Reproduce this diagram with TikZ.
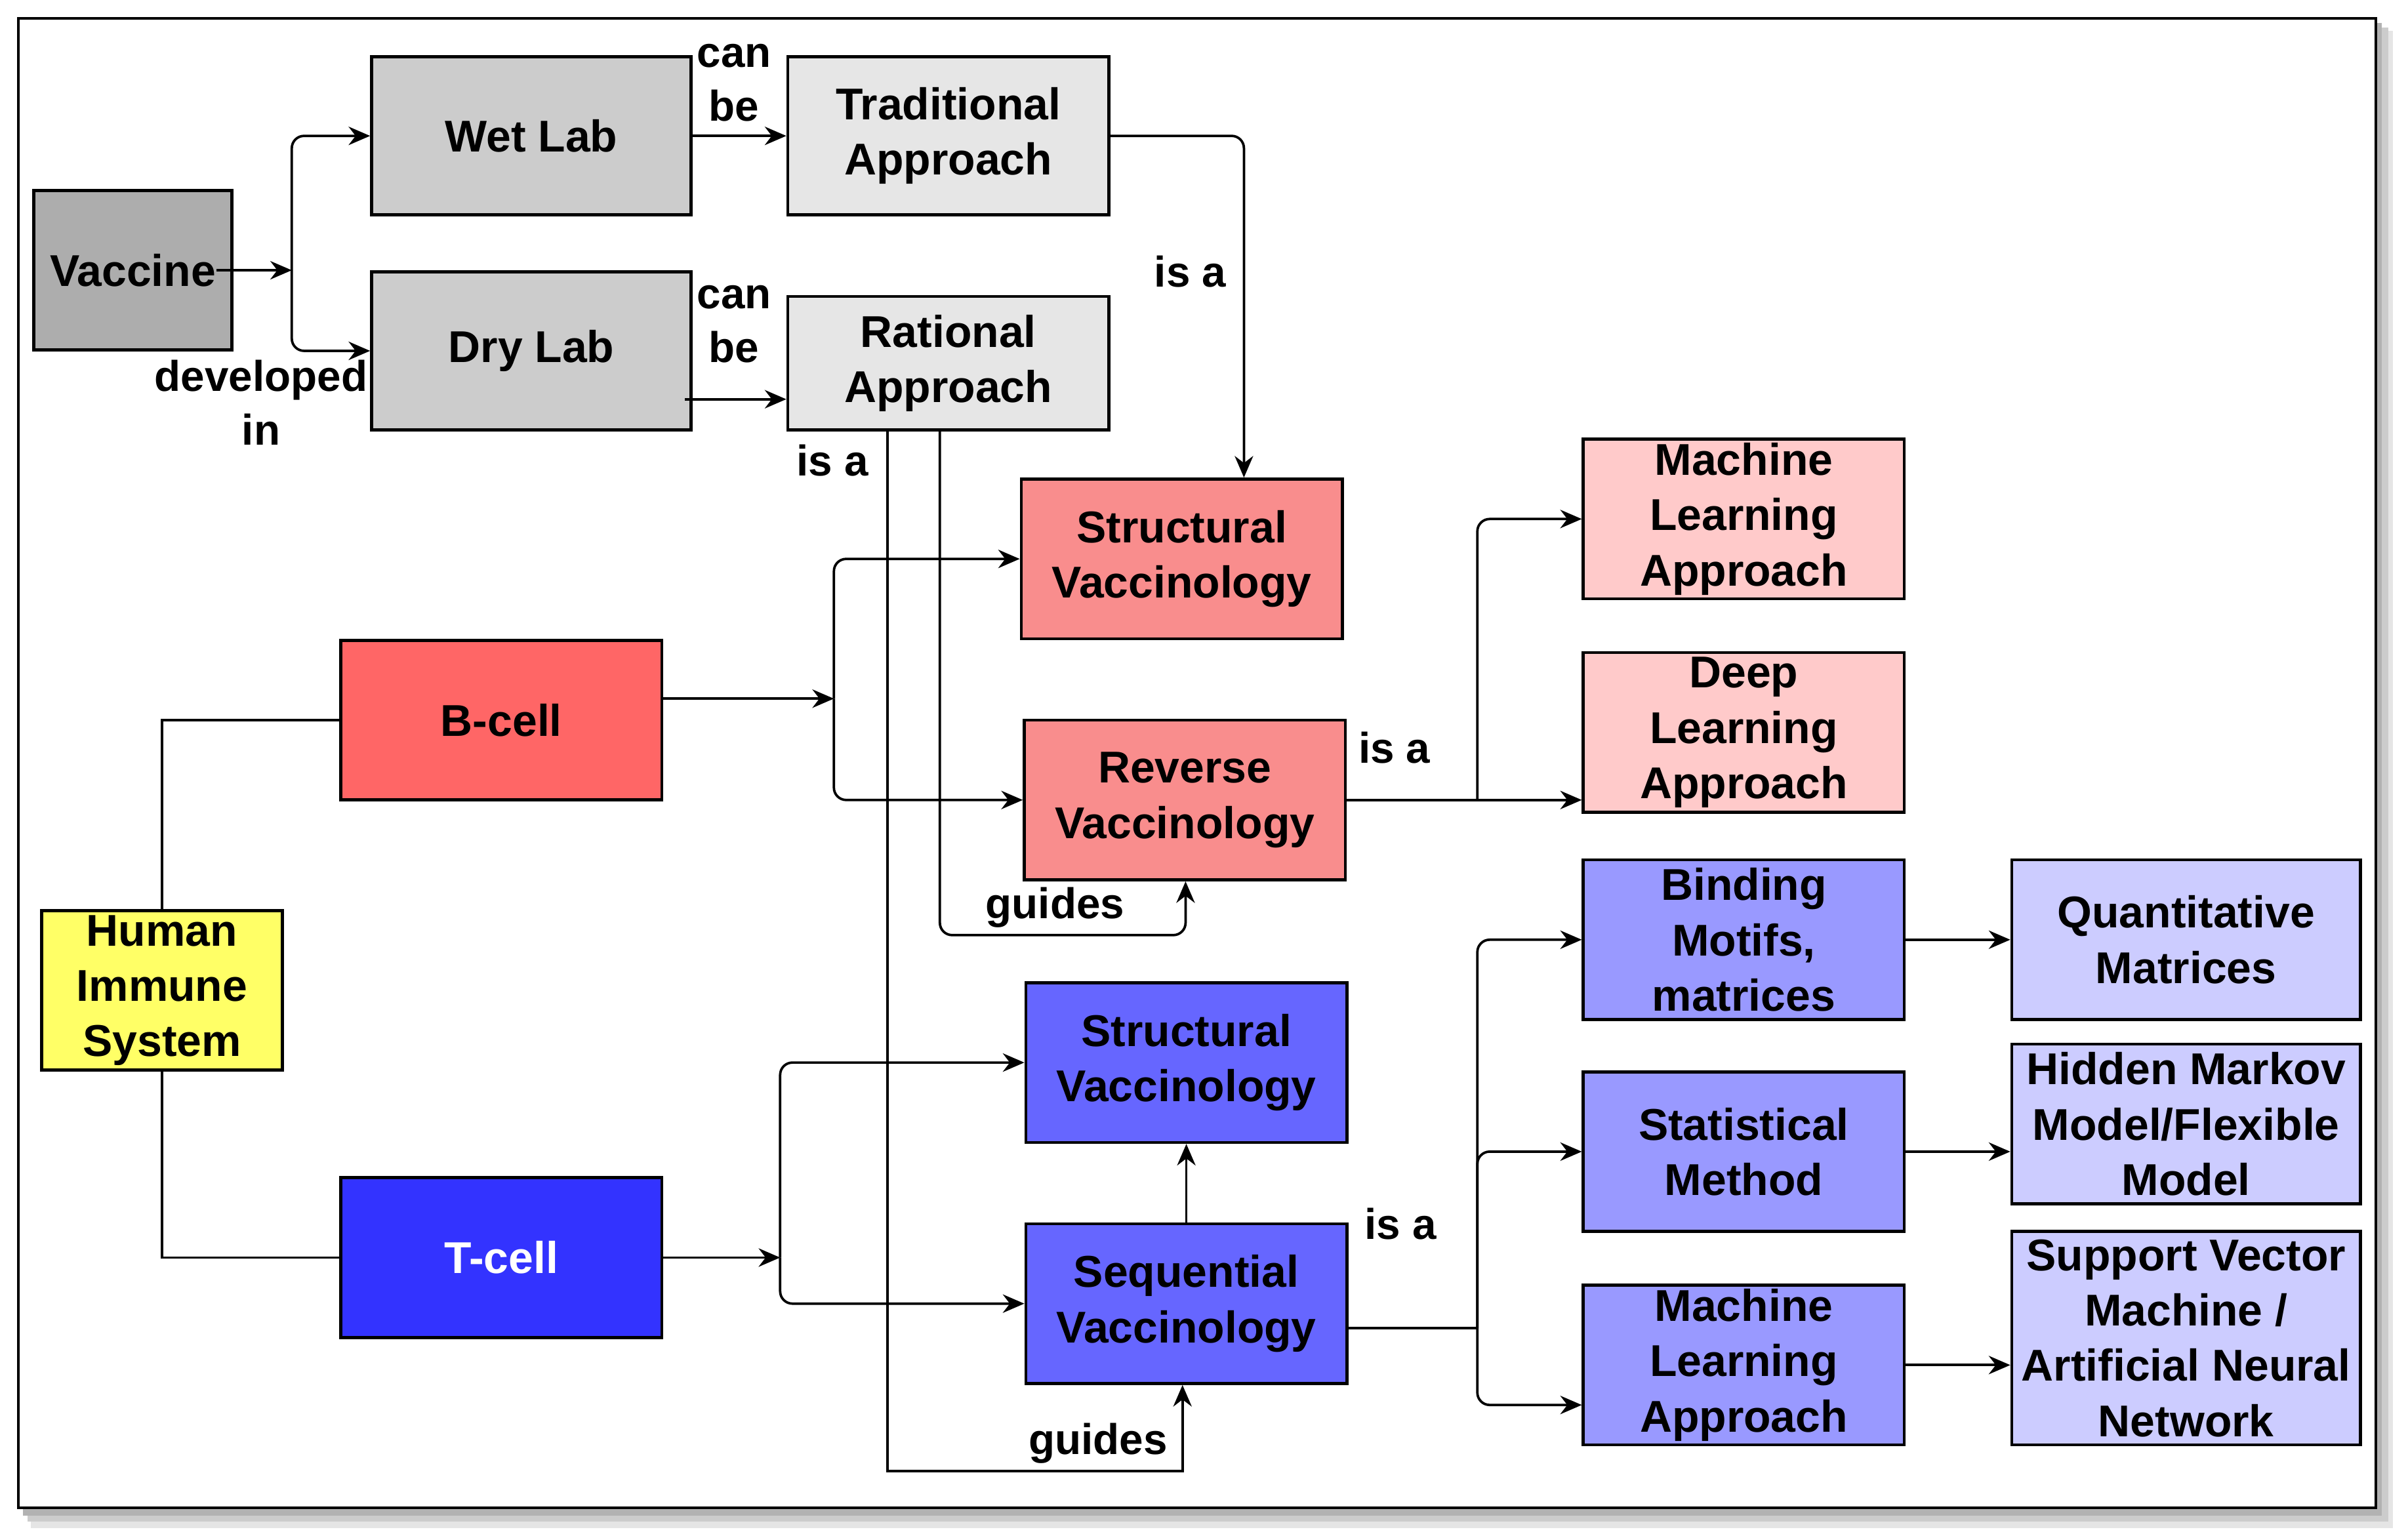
\documentclass[tikz,border=0pt]{standalone}
\usepackage{fontspec}
\setmainfont{Liberation Sans}
\usetikzlibrary{arrows.meta,calc}
\definecolor{cvac}{HTML}{ADADAD}
\definecolor{clab}{HTML}{CCCCCC}
\definecolor{cappr}{HTML}{E6E6E6}
\definecolor{cred}{HTML}{F98D8D}
\definecolor{cbcell}{HTML}{FF6666}
\definecolor{cpink}{HTML}{FFCACA}
\definecolor{ctcell}{HTML}{3333FF}
\definecolor{cblue}{HTML}{6666FF}
\definecolor{cblue2}{HTML}{9999FF}
\definecolor{cblue3}{HTML}{CCCCFF}
\definecolor{cyel}{HTML}{FFFF66}
\tikzset{
  bx/.style={draw, line width=1pt, inner sep=0pt, align=center,
    font=\fontsize{14.5}{18}\selectfont\bfseries,
    minimum width=104.5pt, minimum height=52pt},
  lbl/.style={align=center, inner sep=0pt, font=\fontsize{14}{17.5}\selectfont\bfseries},
  arr/.style={line width=0.8pt, -{Stealth[length=7pt,width=6pt]}},
  ln/.style={line width=0.8pt},
  rc/.style={rounded corners=4pt}
}
\begin{document}
\begin{tikzpicture}[x=0.5pt,y=-0.5pt]
\useasboundingbox (0,0) rectangle (1568,1000);
% frame with shadow
\fill[black!10] (20,20) rectangle (1558,995);
\fill[black!20] (18,18) rectangle (1555,991);
\fill[black!30] (15,15) rectangle (1551,987);
\draw[line width=1pt, fill=white] (12,12) rectangle (1547,982);

% nodes
\node[bx, fill=cvac, minimum width=64.5pt] (vac) at (86.5,176) {Vaccine};
\node[bx, fill=clab, minimum width=104pt, minimum height=51.5pt] (wet) at (346,88.5) {Wet Lab};
\node[bx, fill=clab, minimum width=104pt, minimum height=51.5pt] (dry) at (346,228.5) {Dry Lab};
\node[bx, fill=cappr, minimum height=51.5pt] (trad) at (617.5,88.5) {Traditional\\Approach};
\node[bx, fill=cappr, minimum height=43.5pt] (rat) at (617.5,236.5) {Rational\\Approach};
\node[bx, fill=cred] (svr) at (769.5,364) {Structural\\Vaccinology};
\node[bx, fill=cred] (rvr) at (771.5,521) {Reverse\\Vaccinology};
\node[bx, fill=cbcell] (bcell) at (326.5,469) {B-cell};
\node[bx, fill=cyel, minimum width=78.5pt] (his) at (105.5,645) {Human\\Immune\\System};
\node[bx, fill=ctcell, text=white] (tcell) at (326.5,819) {T-cell};
\node[bx, fill=cblue] (svb) at (772.5,692) {Structural\\Vaccinology};
\node[bx, fill=cblue] (seq) at (772.5,849) {Sequential\\Vaccinology};
\node[bx, fill=cpink] (mlp) at (1135.5,338) {Machine\\Learning\\Approach};
\node[bx, fill=cpink] (dlp) at (1135.5,477) {Deep\\Learning\\Approach};
\node[bx, fill=cblue2] (bind) at (1135.5,612) {Binding\\Motifs,\\matrices};
\node[bx, fill=cblue2] (stat) at (1135.5,750) {Statistical\\Method};
\node[bx, fill=cblue2] (mlb) at (1135.5,889) {Machine\\Learning\\Approach};
\node[bx, fill=cblue3, minimum width=113.5pt] (quant) at (1423.5,612) {Quantitative\\Matrices};
\node[bx, fill=cblue3, minimum width=113.5pt] (hmm) at (1423.5,732) {Hidden Markov\\Model/Flexible\\Model};
\node[bx, fill=cblue3, minimum width=113.5pt, minimum height=69.5pt] (svm) at (1423.5,871.5) {Support Vector\\Machine /\\Artificial Neural\\Network};

% junction coordinates
\coordinate (jv) at (190,176);
\coordinate (jb) at (543,455);
\coordinate (jt) at (508,819);
\coordinate (jr) at (962,521);
\coordinate (js) at (962,865);

% Vaccine
\draw[arr] ($(vac.east)+(-11,0)$) -- (jv);
\draw[arr,rc] (jv) |- (wet.west);
\draw[arr,rc] (jv) |- (dry.west);
\node[lbl] (ldev) at (170,262) {developed\\in};

% labs to approaches
\draw[arr] (wet.east) -- (trad.west);
\node[lbl] (lcan1) at (478,54) {can\\be};
\draw[arr] ($(dry.east)+(-5,31.5)$) -- ($(rat.west)+(0,23.5)$);
\node[lbl] (lcan2) at (478,211) {can\\be};

% traditional -> structural
\draw[arr,rc] (trad.east) -| ($(svr.north)+(40.5,0)$);
\node[lbl] (lisa1) at (775,177) {is a};

% rational guides
\node[lbl] (lisa2) at (542,300) {is a};
\draw[arr,rc] ($(rat.south)+(-5.5,0)$) -- ++(0,328) -| ($(rvr.south)+(0.5,0)$);
\node[lbl] (lg1) at (687,591) {guides};
\draw[arr] ($(rat.south)+(-39.5,0)$) -- ++(0,677) -| ($(seq.south)+(-2.5,0)$);
\node[lbl] (lg2) at (715,940) {guides};

% human immune system
\draw[ln] (his.north) |- (bcell.west);
\draw[ln] (his.south) |- (tcell.west);

% B-cell
\draw[arr] ($(bcell.east)+(0,-14)$) -- (jb);
\draw[arr,rc] (jb) |- (svr.west);
\draw[arr,rc] (jb) |- (rvr.west);

% T-cell
\draw[arr] (tcell.east) -- (jt);
\draw[arr,rc] (jt) |- (svb.west);
\draw[arr,rc] (jt) |- (seq.west);
\draw[arr] (seq.north) -- (svb.south);

% Reverse
\draw[arr] (rvr.east) -- (rvr.east -| dlp.west);
\draw[arr,rc] (jr) |- (mlp.west);
\node[lbl] (lisa3) at (908,487) {is a};

% Sequential
\draw[ln] ($(seq.east)+(0,16)$) -- (js);
\draw[arr,rc] (js) |- (bind.west);
\draw[arr,rc] (js) |- (stat.west);
\draw[arr,rc] (js) |- ($(mlb.west)+(0,26)$);
\node[lbl] (lisa4) at (912,797) {is a};

% right column
\draw[arr] (bind.east) -- (quant.west);
\draw[arr] (stat.east) -- (stat.east -| hmm.west);
\draw[arr] (mlb.east) -- (mlb.east -| svm.west);
\end{tikzpicture}
\end{document}
